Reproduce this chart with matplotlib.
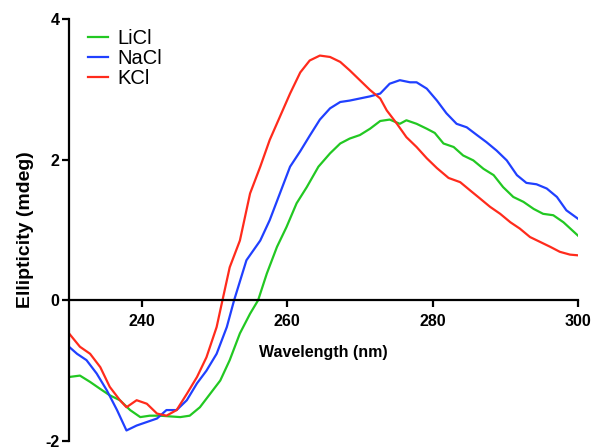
import matplotlib
matplotlib.use("Agg")
import matplotlib.pyplot as plt

plt.rcParams['font.family'] = ['Liberation Sans', 'DejaVu Sans']
plt.rcParams['axes.unicode_minus'] = False

# wavelength (nm) / ellipticity (mdeg)
kcl_wl = [230.0, 231.5, 232.9, 234.3, 235.6, 237.0, 237.9, 239.3, 240.7, 242.1,
          243.4, 244.8, 246.2, 247.6, 248.9, 250.3, 251.1, 252.1, 253.5, 254.9,
          256.3, 257.6, 259.0, 260.4, 261.8, 263.1, 264.5, 265.9, 267.3, 268.6,
          270.0, 271.4, 272.8, 273.7, 275.1, 276.4, 277.8, 279.2, 280.6, 282.2,
          283.8, 285.2, 286.5, 287.9, 289.3, 290.7, 292.0, 293.4, 294.8, 296.2,
          297.5, 298.9, 300.0]
kcl = [-0.47, -0.66, -0.76, -0.95, -1.23, -1.42, -1.52, -1.42, -1.47, -1.61,
       -1.64, -1.56, -1.33, -1.09, -0.81, -0.38, 0.0, 0.47, 0.85, 1.52,
       1.90, 2.28, 2.61, 2.94, 3.24, 3.41, 3.48, 3.46, 3.39, 3.27,
       3.13, 2.99, 2.87, 2.70, 2.51, 2.32, 2.18, 2.02, 1.88, 1.74,
       1.68, 1.56, 1.45, 1.33, 1.23, 1.11, 1.02, 0.90, 0.83, 0.76,
       0.69, 0.65, 0.64]

nacl_wl = [230.0, 231.1, 232.4, 233.8, 235.2, 236.6, 237.9, 239.3, 240.7, 242.1,
           243.4, 244.8, 246.2, 247.6, 248.9, 250.3, 251.7, 252.7, 254.4, 256.3,
           257.6, 259.0, 260.4, 261.8, 263.1, 264.5, 265.9, 267.3, 268.6, 270.0,
           271.4, 272.8, 274.1, 275.5, 276.9, 277.8, 279.2, 280.6, 281.9, 283.3,
           284.7, 286.1, 287.4, 288.8, 290.2, 291.6, 292.9, 294.3, 295.7, 297.1,
           298.4, 300.0]
nacl = [-0.66, -0.76, -0.85, -1.04, -1.28, -1.56, -1.85, -1.78, -1.73, -1.68,
        -1.56, -1.56, -1.42, -1.18, -1.00, -0.76, -0.38, 0.0, 0.57, 0.85,
        1.14, 1.52, 1.90, 2.12, 2.34, 2.57, 2.73, 2.82, 2.84, 2.87,
        2.90, 2.94, 3.08, 3.13, 3.10, 3.10, 3.01, 2.84, 2.66, 2.51,
        2.46, 2.35, 2.25, 2.13, 1.99, 1.78, 1.67, 1.65, 1.59, 1.47,
        1.28, 1.16]

licl_wl = [230.0, 231.5, 232.9, 234.3, 235.6, 237.0, 238.4, 239.8, 241.1, 242.5,
           243.9, 245.3, 246.6, 248.0, 249.4, 250.8, 252.1, 253.5, 254.9, 256.0,
           257.2, 258.6, 259.9, 261.3, 262.7, 264.3, 265.9, 267.3, 268.6, 270.0,
           271.4, 272.8, 274.1, 275.5, 276.4, 277.8, 279.2, 280.3, 281.5, 282.9,
           284.2, 285.6, 287.0, 288.4, 289.7, 291.1, 292.5, 293.9, 295.2, 296.6,
           298.0, 300.0]
licl = [-1.09, -1.07, -1.16, -1.26, -1.35, -1.42, -1.56, -1.66, -1.64, -1.64,
        -1.65, -1.66, -1.64, -1.52, -1.33, -1.14, -0.85, -0.47, -0.19, 0.0,
        0.38, 0.76, 1.04, 1.38, 1.61, 1.90, 2.09, 2.23, 2.30, 2.35,
        2.44, 2.55, 2.57, 2.51, 2.56, 2.51, 2.44, 2.38, 2.23, 2.18,
        2.06, 1.99, 1.87, 1.78, 1.61, 1.47, 1.40, 1.30, 1.23, 1.21,
        1.11, 0.92]

xticks = [240, 260, 280, 300]
yticks = [-2, 0, 2, 4]

fig = plt.figure(figsize=(5.93, 4.47), dpi=100)
ax = fig.add_axes([0.1164, 0.0134, 0.8583, 0.9441])

ax.plot(licl_wl, licl, color='#22c822', lw=1.6, label='LiCl')
ax.plot(nacl_wl, nacl, color='#2040ff', lw=1.6, label='NaCl')
ax.plot(kcl_wl, kcl, color='#ff2b1c', lw=1.6, label='KCl')

ax.set_xlim(230, 300)
ax.set_ylim(-2, 4)
ax.spines['top'].set_visible(False)
ax.spines['right'].set_visible(False)
ax.spines['bottom'].set_position(('data', 0))
for s in ('left', 'bottom'):
    ax.spines[s].set_linewidth(1.6)
ax.set_xticks(xticks)
ax.set_yticks(yticks)
ax.tick_params(width=1.6, length=5, labelsize=11.5)
ax.tick_params(axis='x', pad=5)
ax.tick_params(axis='y', pad=2)
for lab in ax.get_xticklabels() + ax.get_yticklabels():
    lab.set_fontweight('bold')

ax.set_xlabel('Wavelength (nm)', fontsize=11.5, fontweight='bold', labelpad=11)
ax.set_ylabel('Ellipticity (mdeg)', fontsize=14, fontweight='bold', labelpad=8)

ax.legend(loc='upper left', bbox_to_anchor=(0.021, 0.995), frameon=False,
          fontsize=14.5, handlelength=1.0, handletextpad=0.45,
          labelspacing=0.04, borderaxespad=0.0)

fig.savefig('out.png', dpi=100)
